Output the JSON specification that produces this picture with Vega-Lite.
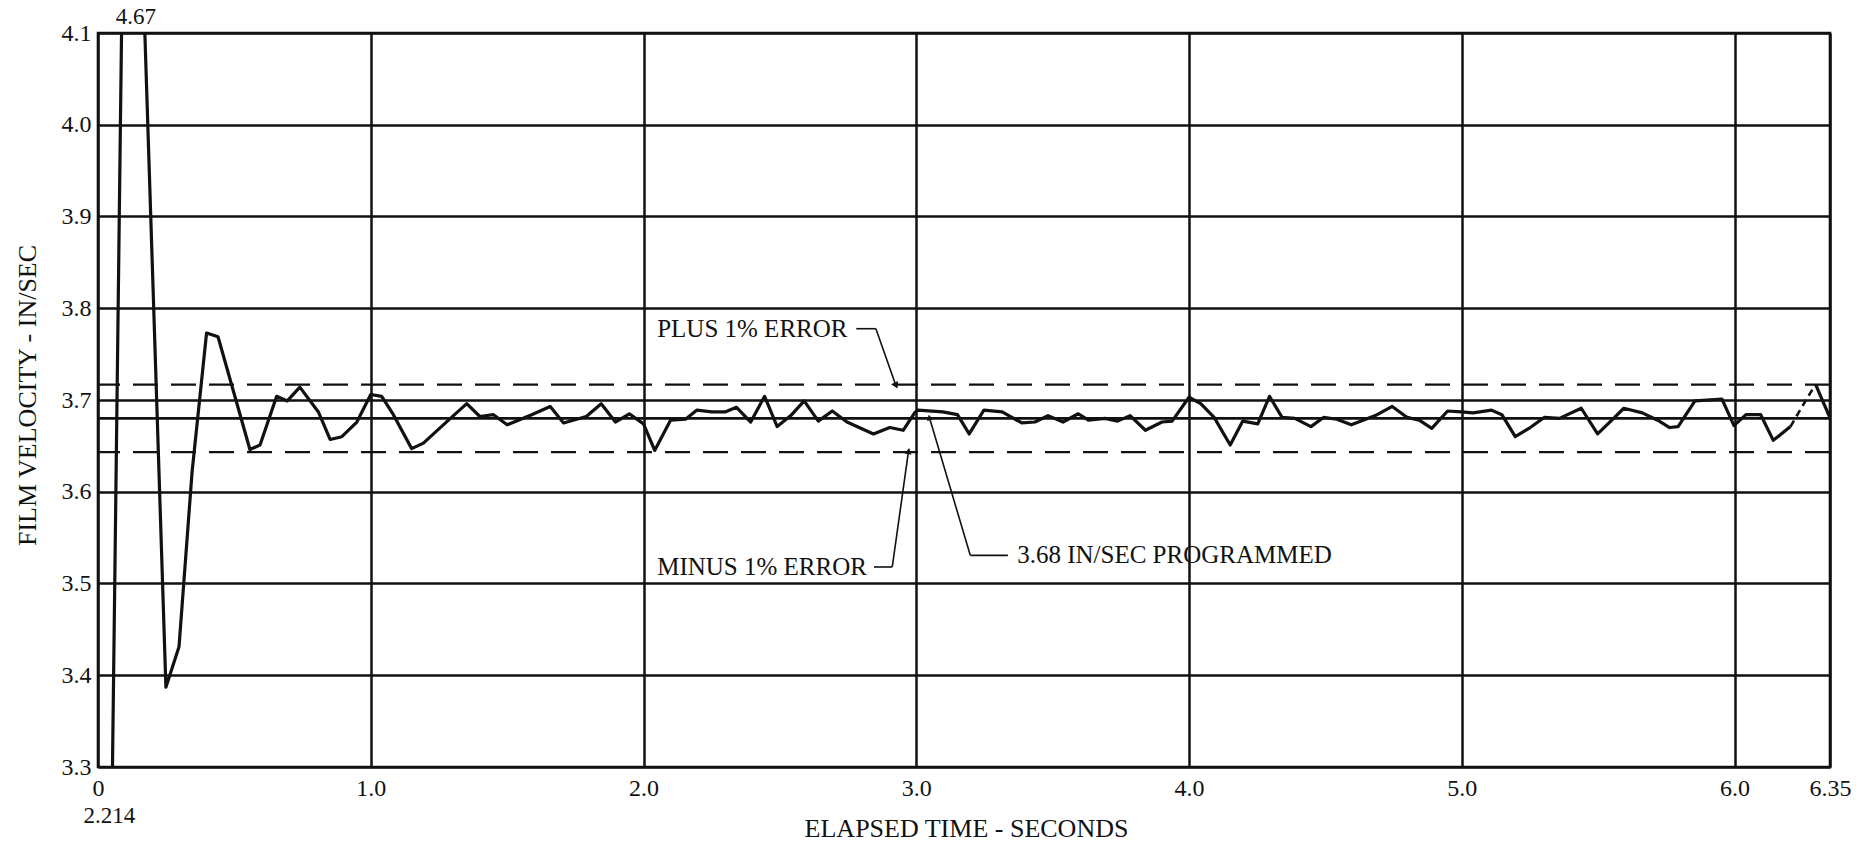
{
  "$schema": "https://vega.github.io/schema/vega-lite/v6.json",
  "width": 1732,
  "height": 734,
  "autosize": {"type": "none"},
  "padding": {"left": 98, "top": 33, "right": 46, "bottom": 83},
  "background": "white",
  "config": {
    "view": {"stroke": "#111", "strokeWidth": 2.6},
    "font": "Liberation Serif"
  },
  "datasets": {
    "velocity": [
      {"t": 0.008, "v": 2.214}, {"t": 0.11, "v": 4.67}, {"t": 0.249, "v": 3.387}, {"t": 0.297, "v": 3.431},
      {"t": 0.345, "v": 3.622}, {"t": 0.398, "v": 3.773}, {"t": 0.44, "v": 3.769}, {"t": 0.557, "v": 3.646},
      {"t": 0.594, "v": 3.651}, {"t": 0.655, "v": 3.704}, {"t": 0.694, "v": 3.699}, {"t": 0.74, "v": 3.714},
      {"t": 0.808, "v": 3.687}, {"t": 0.851, "v": 3.657}, {"t": 0.894, "v": 3.66}, {"t": 0.949, "v": 3.676},
      {"t": 1.0, "v": 3.706}, {"t": 1.04, "v": 3.704}, {"t": 1.083, "v": 3.684}, {"t": 1.15, "v": 3.647},
      {"t": 1.193, "v": 3.653}, {"t": 1.285, "v": 3.678}, {"t": 1.352, "v": 3.696}, {"t": 1.4, "v": 3.682},
      {"t": 1.45, "v": 3.684}, {"t": 1.5, "v": 3.673}, {"t": 1.59, "v": 3.684}, {"t": 1.658, "v": 3.693},
      {"t": 1.707, "v": 3.675}, {"t": 1.79, "v": 3.682}, {"t": 1.845, "v": 3.696}, {"t": 1.897, "v": 3.676},
      {"t": 1.948, "v": 3.685}, {"t": 2.0, "v": 3.674}, {"t": 2.041, "v": 3.645}, {"t": 2.099, "v": 3.678},
      {"t": 2.154, "v": 3.679}, {"t": 2.196, "v": 3.689}, {"t": 2.25, "v": 3.687}, {"t": 2.299, "v": 3.687},
      {"t": 2.341, "v": 3.692}, {"t": 2.393, "v": 3.676}, {"t": 2.444, "v": 3.704}, {"t": 2.49, "v": 3.671},
      {"t": 2.54, "v": 3.683}, {"t": 2.589, "v": 3.699}, {"t": 2.641, "v": 3.677}, {"t": 2.692, "v": 3.688},
      {"t": 2.746, "v": 3.676}, {"t": 2.843, "v": 3.663}, {"t": 2.903, "v": 3.67}, {"t": 2.952, "v": 3.667},
      {"t": 2.994, "v": 3.686}, {"t": 3.006, "v": 3.689}, {"t": 3.097, "v": 3.687}, {"t": 3.151, "v": 3.684},
      {"t": 3.194, "v": 3.663}, {"t": 3.248, "v": 3.689}, {"t": 3.315, "v": 3.687}, {"t": 3.387, "v": 3.675},
      {"t": 3.435, "v": 3.676}, {"t": 3.483, "v": 3.683}, {"t": 3.538, "v": 3.676}, {"t": 3.594, "v": 3.685},
      {"t": 3.631, "v": 3.678}, {"t": 3.692, "v": 3.68}, {"t": 3.738, "v": 3.677}, {"t": 3.784, "v": 3.683},
      {"t": 3.84, "v": 3.667}, {"t": 3.901, "v": 3.676}, {"t": 3.938, "v": 3.677}, {"t": 4.0, "v": 3.703},
      {"t": 4.043, "v": 3.696}, {"t": 4.092, "v": 3.681}, {"t": 4.151, "v": 3.651}, {"t": 4.197, "v": 3.677},
      {"t": 4.252, "v": 3.674}, {"t": 4.295, "v": 3.704}, {"t": 4.341, "v": 3.681}, {"t": 4.388, "v": 3.68},
      {"t": 4.447, "v": 3.671}, {"t": 4.493, "v": 3.681}, {"t": 4.542, "v": 3.679}, {"t": 4.595, "v": 3.673},
      {"t": 4.683, "v": 3.683}, {"t": 4.745, "v": 3.693}, {"t": 4.8, "v": 3.681}, {"t": 4.844, "v": 3.678},
      {"t": 4.89, "v": 3.669}, {"t": 4.948, "v": 3.688}, {"t": 4.998, "v": 3.687}, {"t": 5.041, "v": 3.686},
      {"t": 5.109, "v": 3.689}, {"t": 5.147, "v": 3.684}, {"t": 5.196, "v": 3.66}, {"t": 5.246, "v": 3.669},
      {"t": 5.302, "v": 3.681}, {"t": 5.358, "v": 3.68}, {"t": 5.438, "v": 3.691}, {"t": 5.498, "v": 3.663},
      {"t": 5.55, "v": 3.678}, {"t": 5.594, "v": 3.691}, {"t": 5.662, "v": 3.686}, {"t": 5.718, "v": 3.678},
      {"t": 5.762, "v": 3.67}, {"t": 5.793, "v": 3.671}, {"t": 5.855, "v": 3.699}, {"t": 5.954, "v": 3.701},
      {"t": 5.998, "v": 3.672}, {"t": 6.042, "v": 3.684}, {"t": 6.096, "v": 3.684}, {"t": 6.142, "v": 3.656},
      {"t": 6.205, "v": 3.671}, {"t": 6.268, "v": 3.703}, {"t": 6.297, "v": 3.717}, {"t": 6.348, "v": 3.682}
    ],
    "refs": [
      {"name": "plus", "v": 3.7168},
      {"name": "programmed", "v": 3.68},
      {"name": "minus", "v": 3.6432}
    ],
    "leaders": [
      {"name": "plus", "t": 2.78, "v": 3.7777, "t2": 2.852, "v2": 3.7777},
      {"name": "plus", "t": 2.852, "v": 3.7777, "t2": 2.924, "v2": 3.7168},
      {"name": "minus", "t": 2.845, "v": 3.518, "t2": 2.912, "v2": 3.518},
      {"name": "minus", "t": 2.912, "v": 3.518, "t2": 2.971, "v2": 3.6432},
      {"name": "programmed", "t": 3.336, "v": 3.5307, "t2": 3.198, "v2": 3.5307},
      {"name": "programmed", "t": 3.198, "v": 3.5307, "t2": 3.049, "v2": 3.68}
    ],
    "notes": [
      {"t": 2.05, "v": 3.7777, "text": "PLUS 1% ERROR"},
      {"t": 2.05, "v": 3.518, "text": "MINUS 1% ERROR"},
      {"t": 3.37, "v": 3.5307, "text": "3.68 IN/SEC PROGRAMMED"}
    ],
    "extremes": [
      {"t": 0.139, "v": 4.1174, "text": "4.67"},
      {"t": 0.042, "v": 3.2462, "text": "2.214"}
    ]
  },
  "layer": [
    {
      "data": {"name": "velocity"},
      "transform": [{"filter": {"field": "t", "lte": 6.205}}],
      "mark": {"type": "line", "clip": true, "stroke": "#111", "strokeWidth": 3.2, "strokeJoin": "round"},
      "encoding": {
        "x": {
          "field": "t", "type": "quantitative", "title": "ELAPSED TIME - SECONDS",
          "scale": {"domain": [0, 6.35], "nice": false, "zero": false},
          "axis": {
            "values": [0, 1, 2, 3, 4, 5, 6, 6.35],
            "labelExpr": "datum.value == 0 ? '0' : (datum.value > 6.3 ? '6.35' : format(datum.value, '.1f'))",
            "labelFlush": false,
            "labelFont": "Liberation Serif", "labelFontSize": 24, "labelColor": "#111",
            "labelPadding": 9,
            "grid": true, "gridColor": "#111", "gridWidth": 2.5, "gridOpacity": 1,
            "domain": false, "ticks": false,
            "titleFont": "Liberation Serif", "titleFontSize": 26, "titleFontWeight": "normal", "titleColor": "#111",
            "titleX": 868, "titleY": 61, "titleBaseline": "middle", "titleAnchor": "middle", "titleAlign": "center"
          }
        },
        "y": {
          "field": "v", "type": "quantitative", "title": "FILM VELOCITY - IN/SEC",
          "scale": {"domain": [3.3, 4.1], "nice": false, "zero": false},
          "axis": {
            "values": [3.3, 3.4, 3.5, 3.6, 3.7, 3.8, 3.9, 4.0, 4.1],
            "format": ".1f",
            "labelFont": "Liberation Serif", "labelFontSize": 24, "labelColor": "#111",
            "labelPadding": 7, "labelFlush": false,
            "grid": true, "gridColor": "#111", "gridWidth": 2.5, "gridOpacity": 1,
            "domain": false, "ticks": false,
            "titleFont": "Liberation Serif", "titleFontSize": 26, "titleFontWeight": "normal", "titleColor": "#111",
            "titleX": -71, "titleY": 362, "titleAngle": -90, "titleBaseline": "middle", "titleAlign": "center"
          }
        }
      }
    },
    {
      "data": {"name": "velocity"},
      "transform": [{"filter": {"field": "t", "range": [6.205, 6.297]}}],
      "mark": {"type": "line", "clip": true, "stroke": "#111", "strokeWidth": 2.6, "strokeDash": [7, 5]},
      "encoding": {
        "x": {"field": "t", "type": "quantitative", "title": "ELAPSED TIME - SECONDS"},
        "y": {"field": "v", "type": "quantitative", "title": "FILM VELOCITY - IN/SEC"}
      }
    },
    {
      "data": {"name": "velocity"},
      "transform": [{"filter": {"field": "t", "gte": 6.297}}],
      "mark": {"type": "line", "clip": true, "stroke": "#111", "strokeWidth": 3.2},
      "encoding": {
        "x": {"field": "t", "type": "quantitative", "title": "ELAPSED TIME - SECONDS"},
        "y": {"field": "v", "type": "quantitative", "title": "FILM VELOCITY - IN/SEC"}
      }
    },
    {
      "data": {"name": "refs"},
      "transform": [{"filter": "datum.name == 'programmed'"}],
      "mark": {"type": "rule", "stroke": "#111", "strokeWidth": 2.6},
      "encoding": {"y": {"field": "v", "type": "quantitative", "title": "FILM VELOCITY - IN/SEC"}}
    },
    {
      "data": {"name": "refs"},
      "transform": [{"filter": "datum.name != 'programmed'"}],
      "mark": {"type": "rule", "stroke": "#111", "strokeWidth": 2.4, "strokeDash": [25, 13]},
      "encoding": {"y": {"field": "v", "type": "quantitative", "title": "FILM VELOCITY - IN/SEC"}}
    },
    {
      "data": {"name": "leaders"},
      "mark": {"type": "rule", "stroke": "#111", "strokeWidth": 1.6},
      "encoding": {
        "x": {"field": "t", "type": "quantitative", "title": "ELAPSED TIME - SECONDS"},
        "y": {"field": "v", "type": "quantitative", "title": "FILM VELOCITY - IN/SEC"},
        "x2": {"field": "t2"},
        "y2": {"field": "v2"}
      }
    },
    {
      "data": {"name": "leaders"},
      "transform": [{"filter": "datum.name == 'plus' && datum.v2 != datum.v"}],
      "mark": {"type": "point", "shape": "triangle", "filled": true, "color": "#111", "size": 60, "angle": 154, "opacity": 1},
      "encoding": {
        "x": {"field": "t2", "type": "quantitative", "title": "ELAPSED TIME - SECONDS"},
        "y": {"field": "v2", "type": "quantitative", "title": "FILM VELOCITY - IN/SEC"}
      }
    },
    {
      "data": {"name": "leaders"},
      "transform": [{"filter": "datum.name == 'minus' && datum.v2 != datum.v"}],
      "mark": {"type": "point", "shape": "triangle", "filled": true, "color": "#111", "size": 50, "angle": 12, "opacity": 1},
      "encoding": {
        "x": {"field": "t2", "type": "quantitative", "title": "ELAPSED TIME - SECONDS"},
        "y": {"field": "v2", "type": "quantitative", "title": "FILM VELOCITY - IN/SEC"}
      }
    },
    {
      "data": {"name": "leaders"},
      "transform": [{"filter": "datum.name == 'programmed' && datum.v2 != datum.v"}],
      "mark": {"type": "point", "shape": "triangle", "filled": true, "color": "#111", "size": 40, "angle": 346, "opacity": 1},
      "encoding": {
        "x": {"field": "t2", "type": "quantitative", "title": "ELAPSED TIME - SECONDS"},
        "y": {"field": "v2", "type": "quantitative", "title": "FILM VELOCITY - IN/SEC"}
      }
    },
    {
      "data": {"name": "notes"},
      "mark": {"type": "text", "align": "left", "baseline": "middle", "font": "Liberation Serif", "fontSize": 25, "color": "#111"},
      "encoding": {
        "x": {"field": "t", "type": "quantitative", "title": "ELAPSED TIME - SECONDS"},
        "y": {"field": "v", "type": "quantitative", "title": "FILM VELOCITY - IN/SEC"},
        "text": {"field": "text"}
      }
    },
    {
      "data": {"name": "extremes"},
      "mark": {"type": "text", "align": "center", "baseline": "middle", "font": "Liberation Serif", "fontSize": 23, "color": "#111", "clip": false},
      "encoding": {
        "x": {"field": "t", "type": "quantitative", "title": "ELAPSED TIME - SECONDS"},
        "y": {"field": "v", "type": "quantitative", "title": "FILM VELOCITY - IN/SEC"},
        "text": {"field": "text"}
      }
    }
  ]
}
